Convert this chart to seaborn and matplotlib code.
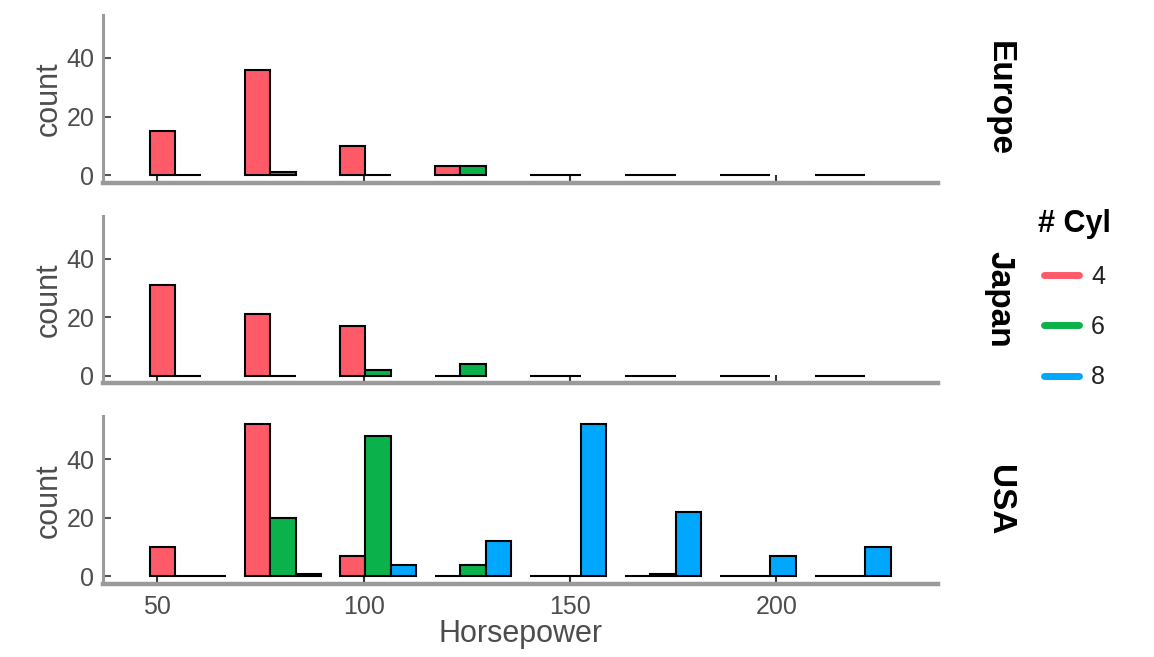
import matplotlib
matplotlib.use("Agg")
import matplotlib.pyplot as plt
from matplotlib.lines import Line2D
import seaborn as sns
import pandas as pd

sns.set_theme(style="white")
plt.rcParams['font.family'] = ['Liberation Sans', 'DejaVu Sans']

# ---- data ----
bin_centers = [57.5, 80.5, 103.5, 126.5, 149.5, 172.5, 195.5, 218.5]
origins = ["Europe", "Japan", "USA"]
cyl_levels = ["4", "6", "8"]
colors = ["#FF5A68", "#0BB14A", "#00A7FF"]

europe_4 = [15, 36, 10, 3, 0, 0, 0, 0]
europe_6 = [0, 1, 0, 3, 0, 0, 0, 0]
japan_4 = [31, 21, 17, 0, 0, 0, 0, 0]
japan_6 = [0, 0, 2, 4, 0, 0, 0, 0]
usa_4 = [10, 52, 7, 0, 0, 0, 0, 0]
usa_6 = [0, 20, 48, 4, 0, 1, 0, 0]
usa_8 = [0, 1, 4, 12, 52, 22, 7, 10]

series = {
    "Europe": {"4": europe_4, "6": europe_6},
    "Japan": {"4": japan_4, "6": japan_6},
    "USA": {"4": usa_4, "6": usa_6, "8": usa_8},
}

rows = []
for origin, d in series.items():
    for cyl, vals in d.items():
        for hp, c in zip(bin_centers, vals):
            rows.append({"origin": origin, "cyl": cyl, "hp": hp, "count": c})
df = pd.DataFrame(rows)

fig = plt.figure(figsize=(11.54, 6.57), dpi=100)
axes = fig.subplots(3, 1, sharex=True, sharey=True)
fig.subplots_adjust(left=0.089, right=0.813, top=0.977, bottom=0.111, hspace=0.197)

grey_txt = "#4D4D4D"
for i, (ax, origin) in enumerate(zip(axes, origins)):
    sub = df[df["origin"] == origin]
    sns.barplot(data=sub, x="hp", y="count", hue="cyl", hue_order=cyl_levels,
                palette=colors, native_scale=True, dodge=True, errorbar=None,
                edgecolor="black", linewidth=1.5, saturation=1, legend=False, ax=ax)
    ax.set_xlim(36.8, 239.2)
    ax.set_ylim(-2.6, 54.6)
    ax.set_yticks([0, 20, 40])
    ax.set_xticks([50, 100, 150, 200])
    for s in ["top", "right"]:
        ax.spines[s].set_visible(False)
    ax.spines["left"].set_color("#9A9A9A")
    ax.spines["left"].set_linewidth(2.2)
    ax.spines["bottom"].set_color("#9A9A9A")
    ax.spines["bottom"].set_linewidth(3.2)
    ax.tick_params(axis="y", direction="in", length=6, width=1.5, color="#555555",
                   labelsize=18, labelcolor=grey_txt, pad=6, left=True)
    ax.tick_params(axis="x", direction="in", length=6, width=1.5, color="#333333",
                   labelsize=18, labelcolor=grey_txt, pad=8, bottom=True)
    ax.set_ylabel("count", fontsize=22, color=grey_txt, labelpad=2)
    if i < 2:
        ax.set_xlabel("")
        ax.tick_params(axis="x", labelbottom=False)
    else:
        ax.set_xlabel("Horsepower", fontsize=22, color=grey_txt, labelpad=0)
    pos = ax.get_position()
    fig.text(0.866, (pos.y0 + pos.y1) / 2, origin, rotation=-90, ha="center", va="center",
             fontsize=24, fontweight="bold", color="black")

handles = [Line2D([0], [0], color=c, lw=5) for c in colors]
leg = fig.legend(handles, cyl_levels, title="# Cyl", loc="center left",
                 bbox_to_anchor=(0.88, 0.545), frameon=False, fontsize=18,
                 handlelength=1.4, labelspacing=1.05, handletextpad=0.5)
leg.get_title().set_fontweight("bold")
leg.get_title().set_fontsize(22)
leg.get_title().set_color("black")
for t in leg.get_texts():
    t.set_color("#222222")

fig.savefig("out.png", dpi=100)
